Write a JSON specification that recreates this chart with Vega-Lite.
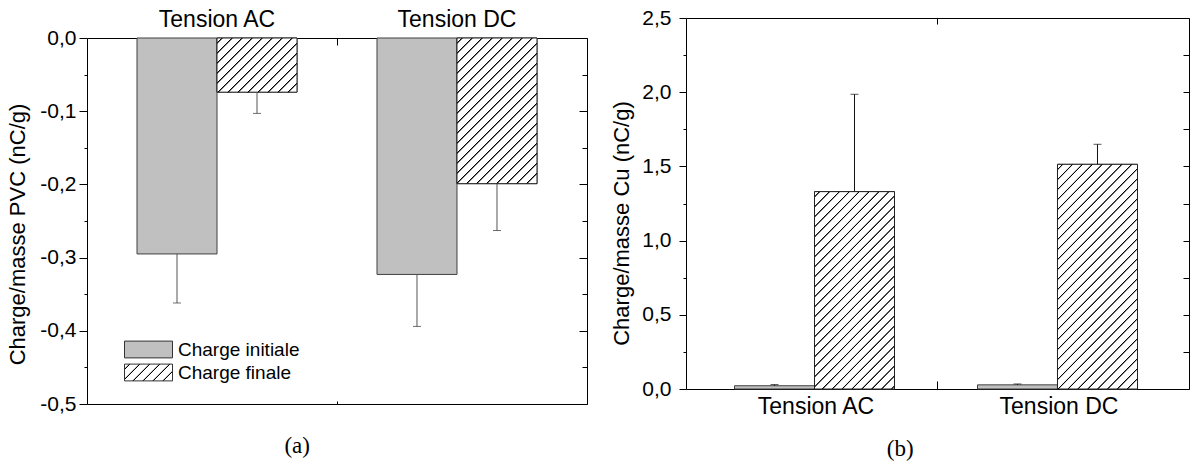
{
  "$schema": "https://vega.github.io/schema/vega-lite/v6.json",
  "padding": {"left": 6, "top": 7, "right": 0, "bottom": 0},
  "background": "white",
  "params": [
    {"name": "hatch", "value": [
      {"offset":0,"color":"#fff"},
      {"offset":0.0131,"color":"#fff"},{"offset":0.0156,"color":"#000"},{"offset":0.0175,"color":"#000"},{"offset":0.02,"color":"#fff"},
      {"offset":0.0444,"color":"#fff"},{"offset":0.0469,"color":"#000"},{"offset":0.0488,"color":"#000"},{"offset":0.0513,"color":"#fff"},
      {"offset":0.0756,"color":"#fff"},{"offset":0.0781,"color":"#000"},{"offset":0.08,"color":"#000"},{"offset":0.0825,"color":"#fff"},
      {"offset":0.1069,"color":"#fff"},{"offset":0.1094,"color":"#000"},{"offset":0.1113,"color":"#000"},{"offset":0.1138,"color":"#fff"},
      {"offset":0.1381,"color":"#fff"},{"offset":0.1406,"color":"#000"},{"offset":0.1425,"color":"#000"},{"offset":0.145,"color":"#fff"},
      {"offset":0.1694,"color":"#fff"},{"offset":0.1719,"color":"#000"},{"offset":0.1738,"color":"#000"},{"offset":0.1763,"color":"#fff"},
      {"offset":0.2006,"color":"#fff"},{"offset":0.2031,"color":"#000"},{"offset":0.205,"color":"#000"},{"offset":0.2075,"color":"#fff"},
      {"offset":0.2319,"color":"#fff"},{"offset":0.2344,"color":"#000"},{"offset":0.2363,"color":"#000"},{"offset":0.2388,"color":"#fff"},
      {"offset":0.2631,"color":"#fff"},{"offset":0.2656,"color":"#000"},{"offset":0.2675,"color":"#000"},{"offset":0.27,"color":"#fff"},
      {"offset":0.2944,"color":"#fff"},{"offset":0.2969,"color":"#000"},{"offset":0.2988,"color":"#000"},{"offset":0.3013,"color":"#fff"},
      {"offset":0.3256,"color":"#fff"},{"offset":0.3281,"color":"#000"},{"offset":0.33,"color":"#000"},{"offset":0.3325,"color":"#fff"},
      {"offset":0.3569,"color":"#fff"},{"offset":0.3594,"color":"#000"},{"offset":0.3613,"color":"#000"},{"offset":0.3638,"color":"#fff"},
      {"offset":0.3881,"color":"#fff"},{"offset":0.3906,"color":"#000"},{"offset":0.3925,"color":"#000"},{"offset":0.395,"color":"#fff"},
      {"offset":0.4194,"color":"#fff"},{"offset":0.4219,"color":"#000"},{"offset":0.4238,"color":"#000"},{"offset":0.4263,"color":"#fff"},
      {"offset":0.4506,"color":"#fff"},{"offset":0.4531,"color":"#000"},{"offset":0.455,"color":"#000"},{"offset":0.4575,"color":"#fff"},
      {"offset":0.4819,"color":"#fff"},{"offset":0.4844,"color":"#000"},{"offset":0.4863,"color":"#000"},{"offset":0.4888,"color":"#fff"},
      {"offset":0.5131,"color":"#fff"},{"offset":0.5156,"color":"#000"},{"offset":0.5175,"color":"#000"},{"offset":0.52,"color":"#fff"},
      {"offset":0.5444,"color":"#fff"},{"offset":0.5469,"color":"#000"},{"offset":0.5488,"color":"#000"},{"offset":0.5513,"color":"#fff"},
      {"offset":0.5756,"color":"#fff"},{"offset":0.5781,"color":"#000"},{"offset":0.58,"color":"#000"},{"offset":0.5825,"color":"#fff"},
      {"offset":0.6069,"color":"#fff"},{"offset":0.6094,"color":"#000"},{"offset":0.6113,"color":"#000"},{"offset":0.6138,"color":"#fff"},
      {"offset":0.6381,"color":"#fff"},{"offset":0.6406,"color":"#000"},{"offset":0.6425,"color":"#000"},{"offset":0.645,"color":"#fff"},
      {"offset":0.6694,"color":"#fff"},{"offset":0.6719,"color":"#000"},{"offset":0.6738,"color":"#000"},{"offset":0.6763,"color":"#fff"},
      {"offset":0.7006,"color":"#fff"},{"offset":0.7031,"color":"#000"},{"offset":0.705,"color":"#000"},{"offset":0.7075,"color":"#fff"},
      {"offset":0.7319,"color":"#fff"},{"offset":0.7344,"color":"#000"},{"offset":0.7363,"color":"#000"},{"offset":0.7388,"color":"#fff"},
      {"offset":0.7631,"color":"#fff"},{"offset":0.7656,"color":"#000"},{"offset":0.7675,"color":"#000"},{"offset":0.77,"color":"#fff"},
      {"offset":0.7944,"color":"#fff"},{"offset":0.7969,"color":"#000"},{"offset":0.7988,"color":"#000"},{"offset":0.8013,"color":"#fff"},
      {"offset":0.8256,"color":"#fff"},{"offset":0.8281,"color":"#000"},{"offset":0.83,"color":"#000"},{"offset":0.8325,"color":"#fff"},
      {"offset":0.8569,"color":"#fff"},{"offset":0.8594,"color":"#000"},{"offset":0.8613,"color":"#000"},{"offset":0.8638,"color":"#fff"},
      {"offset":0.8881,"color":"#fff"},{"offset":0.8906,"color":"#000"},{"offset":0.8925,"color":"#000"},{"offset":0.895,"color":"#fff"},
      {"offset":0.9194,"color":"#fff"},{"offset":0.9219,"color":"#000"},{"offset":0.9238,"color":"#000"},{"offset":0.9263,"color":"#fff"},
      {"offset":0.9506,"color":"#fff"},{"offset":0.9531,"color":"#000"},{"offset":0.955,"color":"#000"},{"offset":0.9575,"color":"#fff"},
      {"offset":0.9819,"color":"#fff"},{"offset":0.9844,"color":"#000"},{"offset":0.9863,"color":"#000"},{"offset":0.9888,"color":"#fff"},
      {"offset":1,"color":"#fff"}
    ]}
  ],
  "config": {
    "view": {"stroke": null},
    "font": "Liberation Sans",
    "axis": {"domainColor": "#000", "tickColor": "#000", "labelColor": "#000", "titleColor": "#000", "labelFont": "Liberation Sans", "titleFont": "Liberation Sans", "titleFontWeight": "normal", "grid": false, "domainWidth": 1, "tickWidth": 1, "zindex": 1},
    "legend": {"labelFont": "Liberation Sans", "labelColor": "#000"}
  },
  "align": "none",
  "spacing": 22,
  "hconcat": [
      {
        "width": 500, "height": 386,
        "title": {"text": "(a)", "orient": "bottom", "anchor": "middle", "frame": "bounds", "font": "Liberation Serif", "fontSize": 23, "fontWeight": "normal", "color": "#000", "offset": 21},
        "data": {"values": [
          {"tension": "Tension AC", "serie": "Charge initiale", "v": -0.295, "fin": -0.362},
          {"tension": "Tension AC", "serie": "Charge finale", "v": -0.074, "fin": -0.103},
          {"tension": "Tension DC", "serie": "Charge initiale", "v": -0.323, "fin": -0.394},
          {"tension": "Tension DC", "serie": "Charge finale", "v": -0.199, "fin": -0.263}
        ]},
        "resolve": {"axis": {"x": "independent", "y": "independent"}},
        "layer": [
          {
            "mark": {"type": "bar", "stroke": "#404040", "strokeWidth": 1},
            "encoding": {
              "x": {"field": "tension", "type": "nominal", "sort": ["Tension AC", "Tension DC"], "scale": {"paddingInner": 0, "paddingOuter": 0.04167},
                    "axis": {"orient": "top", "offset": -20, "title": null, "labelFontSize": 23, "labelAngle": 0, "ticks": false, "tickSize": 0, "labelPadding": 7}},
              "xOffset": {"field": "serie", "type": "nominal", "sort": ["Charge initiale", "Charge finale"], "scale": {"paddingInner": 0, "paddingOuter": 0.5}},
              "y": {"field": "v", "type": "quantitative", "scale": {"domain": [-0.5, 0], "range": [386, 20], "nice": false, "zero": false},
                    "axis": {"orient": "left", "title": "Charge/masse PVC (nC/g)", "titleFontSize": 22, "titlePadding": 10, "titleY": 216,
                             "values": [-0.5, -0.45, -0.4, -0.35, -0.3, -0.25, -0.2, -0.15, -0.1, -0.05, 0],
                             "labelExpr": "abs(datum.value*10 - round(datum.value*10)) < 0.001 ? replace(replace(format(datum.value, '.1f'), '.', ','), '\u2212', '-') : ''",
                             "labelFontSize": 21, "labelPadding": 3, "labelOverlap": false, "labelFlush": false,
                             "tickSize": {"condition": {"test": "abs(datum.value*10 - round(datum.value*10)) < 0.001", "value": 8}, "value": 3}}},
              "fill": {"field": "serie", "type": "nominal",
                       "scale": {"domain": ["Charge initiale", "Charge finale"], "range": ["#c0c0c0", {"expr": "{'gradient': 'linear', 'x1': 0, 'y1': 0, 'x2': 5.939, 'y2': 2.079, 'stops': slice(hatch, 0, 29)}"}]},
                       "legend": {"orient": "none", "legendX": 49, "legendY": 319, "title": null,
                                  "symbolType": "M-2,-0.7L2,-0.7L2,0.7L-2,0.7Z", "symbolSize": 576, "symbolStrokeColor": "#333", "symbolStrokeWidth": 1,
                                  "labelFontSize": 19, "labelOffset": 17, "rowPadding": -2, "padding": 0, "labelLimit": 300}}
            }
          },
          {
            "transform": [{"filter": "datum.serie == 'Charge finale'"}],
            "mark": {"type": "bar", "stroke": "#222", "strokeWidth": 1,
                     "fill": {"expr": "{'gradient': 'linear', 'x1': 0, 'y1': 0, 'x2': 25600 / (6400 + pow(abs(datum.v) * 732, 2)), 'y2': abs(datum.v) * 732 * 320 / (6400 + pow(abs(datum.v) * 732, 2)), 'stops': hatch}"}},
            "encoding": {
              "x": {"field": "tension", "type": "nominal", "sort": ["Tension AC", "Tension DC"], "scale": {"paddingInner": 0, "paddingOuter": 0.04167},
                    "axis": {"orient": "top", "offset": -20, "title": null, "labels": false, "domain": false, "values": ["Tension AC"], "bandPosition": 1, "tickSize": -7}},
              "xOffset": {"field": "serie", "type": "nominal", "sort": ["Charge initiale", "Charge finale"], "scale": {"paddingInner": 0, "paddingOuter": 0.5}},
              "y": {"field": "v", "type": "quantitative", "scale": {"domain": [-0.5, 0], "range": [386, 20], "nice": false, "zero": false}, "axis": null}
            }
          },
          {
            "mark": {"type": "rule", "color": "#555", "strokeWidth": 1},
            "encoding": {
              "x": {"field": "tension", "type": "nominal", "sort": ["Tension AC", "Tension DC"], "axis": null},
              "xOffset": {"field": "serie", "type": "nominal", "sort": ["Charge initiale", "Charge finale"]},
              "y": {"field": "v", "type": "quantitative", "scale": {"domain": [-0.5, 0], "range": [386, 20], "nice": false, "zero": false}, "axis": null},
              "y2": {"field": "fin"}
            }
          },
          {
            "mark": {"type": "tick", "color": "#333", "thickness": 1, "size": 8},
            "encoding": {
              "x": {"field": "tension", "type": "nominal", "sort": ["Tension AC", "Tension DC"],
                    "axis": {"orient": "bottom", "title": null, "labels": false, "values": ["Tension AC"], "bandPosition": 1, "tickSize": -3}},
              "xOffset": {"field": "serie", "type": "nominal", "sort": ["Charge initiale", "Charge finale"]},
              "y": {"field": "fin", "type": "quantitative", "scale": {"domain": [-0.5, 0], "range": [386, 20], "nice": false, "zero": false},
                    "axis": {"orient": "right", "title": null, "labels": false,
                             "values": [-0.5, -0.45, -0.4, -0.35, -0.3, -0.25, -0.2, -0.15, -0.1, -0.05, 0],
                             "tickSize": {"condition": {"test": "abs(datum.value*10 - round(datum.value*10)) < 0.001", "value": -8}, "value": -5}}}
            }
          }
        ]
      },
      {
        "width": 503, "height": 371,
        "title": {"text": "(b)", "orient": "bottom", "anchor": "middle", "frame": "bounds", "font": "Liberation Serif", "fontSize": 23, "fontWeight": "normal", "color": "#000", "offset": 20},
        "data": {"values": [
          {"tension": "Tension AC", "serie": "Charge initiale", "v": 0.022, "fin": 0.03},
          {"tension": "Tension AC", "serie": "Charge finale", "v": 1.33, "fin": 1.986},
          {"tension": "Tension DC", "serie": "Charge initiale", "v": 0.028, "fin": 0.034},
          {"tension": "Tension DC", "serie": "Charge finale", "v": 1.514, "fin": 1.649}
        ]},
        "resolve": {"axis": {"x": "independent", "y": "independent"}},
        "layer": [
          {
            "mark": {"type": "bar", "stroke": "#404040", "strokeWidth": 1},
            "encoding": {
              "x": {"field": "tension", "type": "nominal", "sort": ["Tension AC", "Tension DC"], "scale": {"paddingInner": 0, "paddingOuter": 0.035},
                    "axis": {"orient": "bottom", "title": null, "labelFontSize": 23, "labelAngle": 0, "ticks": false, "tickSize": 0, "labelPadding": 6}},
              "xOffset": {"field": "serie", "type": "nominal", "sort": ["Charge initiale", "Charge finale"], "scale": {"paddingInner": 0, "paddingOuter": 0.5}},
              "y": {"field": "v", "type": "quantitative", "scale": {"domain": [0, 2.5], "nice": false, "zero": false},
                    "axis": {"orient": "left", "title": "Charge/masse Cu (nC/g)", "titleFontSize": 22, "titlePadding": 8, "titleY": 205,
                             "values": [0, 0.25, 0.5, 0.75, 1, 1.25, 1.5, 1.75, 2, 2.25, 2.5],
                             "labelExpr": "abs(datum.value*2 - round(datum.value*2)) < 0.001 ? replace(format(datum.value, '.1f'), '.', ',') : ''",
                             "labelFontSize": 21, "labelPadding": 8, "labelOverlap": false, "labelFlush": false,
                             "tickSize": {"condition": {"test": "abs(datum.value*2 - round(datum.value*2)) < 0.001", "value": 7}, "value": 3}}},
              "fill": {"field": "serie", "type": "nominal",
                       "scale": {"domain": ["Charge initiale", "Charge finale"], "range": ["#c0c0c0", {"expr": "{'gradient': 'linear', 'x1': 0, 'y1': 0, 'x2': 5.939, 'y2': 2.079, 'stops': slice(hatch, 0, 29)}"}]},
                       "legend": {"orient": "none", "legendX": 35, "legendY": 10, "title": null,
                                  "symbolType": "M-2,-0.7L2,-0.7L2,0.7L-2,0.7Z", "symbolSize": 576, "symbolStrokeColor": "#333", "symbolStrokeWidth": 1,
                                  "labelFontSize": 19, "labelOffset": 17, "rowPadding": -2, "padding": 0, "labelLimit": 300}}
            }
          },
          {
            "transform": [{"filter": "datum.serie == 'Charge finale'"}],
            "mark": {"type": "bar", "stroke": "#222", "strokeWidth": 1,
                     "fill": {"expr": "{'gradient': 'linear', 'x1': 0, 'y1': 0, 'x2': 25920 / (6561 + pow(datum.v * 148.4, 2)), 'y2': datum.v * 148.4 * 320 / (6561 + pow(datum.v * 148.4, 2)), 'stops': hatch}"}},
            "encoding": {
              "x": {"field": "tension", "type": "nominal", "sort": ["Tension AC", "Tension DC"], "scale": {"paddingInner": 0, "paddingOuter": 0.035},
                    "axis": {"orient": "bottom", "title": null, "labels": false, "domain": false, "values": ["Tension AC"], "bandPosition": 1, "tickSize": -8}},
              "xOffset": {"field": "serie", "type": "nominal", "sort": ["Charge initiale", "Charge finale"], "scale": {"paddingInner": 0, "paddingOuter": 0.5}},
              "y": {"field": "v", "type": "quantitative", "scale": {"domain": [0, 2.5], "nice": false, "zero": false}, "axis": null}
            }
          },
          {
            "mark": {"type": "rule", "color": "#111", "strokeWidth": 1},
            "encoding": {
              "x": {"field": "tension", "type": "nominal", "sort": ["Tension AC", "Tension DC"], "axis": null},
              "xOffset": {"field": "serie", "type": "nominal", "sort": ["Charge initiale", "Charge finale"]},
              "y": {"field": "v", "type": "quantitative", "scale": {"domain": [0, 2.5], "nice": false, "zero": false}, "axis": null},
              "y2": {"field": "fin"}
            }
          },
          {
            "mark": {"type": "tick", "color": "#111", "thickness": 1, "size": 8},
            "encoding": {
              "x": {"field": "tension", "type": "nominal", "sort": ["Tension AC", "Tension DC"],
                    "axis": {"orient": "top", "title": null, "labels": false, "values": ["Tension AC"], "bandPosition": 1, "tickSize": -6}},
              "xOffset": {"field": "serie", "type": "nominal", "sort": ["Charge initiale", "Charge finale"]},
              "y": {"field": "fin", "type": "quantitative", "scale": {"domain": [0, 2.5], "nice": false, "zero": false},
                    "axis": {"orient": "right", "title": null, "labels": false,
                             "values": [0, 0.25, 0.5, 0.75, 1, 1.25, 1.5, 1.75, 2, 2.25, 2.5],
                             "tickSize": -6}}
            }
          }
        ]
      }
  ]
}
